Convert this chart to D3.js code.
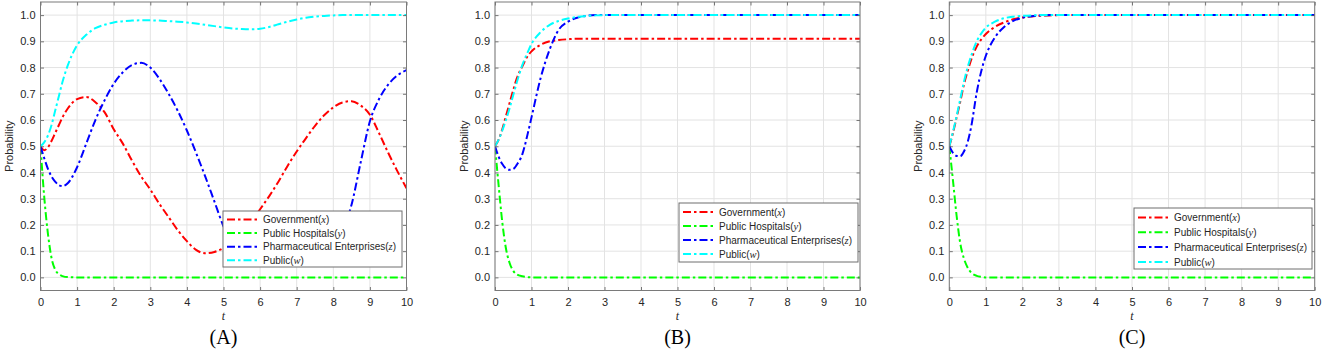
<!DOCTYPE html>
<html>
<head>
<meta charset="utf-8">
<script src="https://cdn.jsdelivr.net/npm/d3@7/dist/d3.min.js"></script>
<style>
  html, body { margin: 0; padding: 0; background: #fff; }
  svg { display: block; }
</style>
</head>
<body>
<svg id="chart" width="1325" height="352"></svg>
<script>
// ---------------- DATA ----------------
const X_TICKS = [0,1,2,3,4,5,6,7,8,9,10];
const Y_TICKS = [0,0.1,0.2,0.3,0.4,0.5,0.6,0.7,0.8,0.9,1.0];
const PANEL_LABELS = ["(A)", "(B)", "(C)"];
const SERIES_NAMES = ["Government", "Public Hospitals", "Pharmaceutical Enterprises", "Public"];
const SERIES_VARS = ["x", "y", "z", "w"];
const SERIES_COLORS = ["#ff0000", "#00ff00", "#0000ff", "#00ffff"];

// Panel A
const T_A = [0,0.1,0.2,0.3,0.4,0.5,0.6,0.75,1,1.25,1.5,1.75,2,2.25,2.5,2.75,3,3.25,3.5,3.75,4,4.25,4.5,4.75,5,5.25,5.5,5.75,6,6.25,6.5,6.75,7,7.25,7.5,7.75,8,8.25,8.5,8.75,9,9.25,9.5,9.75,10];
const GOV_A = [0.5,0.485,0.495,0.52,0.55,0.58,0.61,0.645,0.68,0.688,0.668,0.63,0.565,0.51,0.445,0.385,0.335,0.28,0.23,0.18,0.138,0.105,0.092,0.097,0.112,0.135,0.168,0.21,0.26,0.31,0.365,0.425,0.48,0.53,0.578,0.618,0.648,0.667,0.672,0.655,0.62,0.55,0.475,0.405,0.34];
const HOSP_A = [0.5,0.31,0.17,0.075,0.03,0.012,0.005,0.001,0,0,0,0,0,0,0,0,0,0,0,0,0,0,0,0,0,0,0,0,0,0,0,0,0,0,0,0,0,0,0,0,0,0,0,0,0];
const PHARMA_A = [0.5,0.455,0.415,0.385,0.365,0.352,0.348,0.36,0.42,0.51,0.6,0.675,0.738,0.782,0.81,0.818,0.8,0.757,0.7,0.635,0.56,0.475,0.385,0.29,0.195,0.13,0.09,0.07,0.06,0.054,0.052,0.053,0.056,0.062,0.07,0.085,0.115,0.175,0.278,0.44,0.595,0.68,0.735,0.77,0.79];
const PUBLIC_A = [0.5,0.515,0.54,0.58,0.635,0.69,0.745,0.81,0.885,0.925,0.95,0.963,0.972,0.977,0.979,0.98,0.98,0.979,0.977,0.975,0.972,0.968,0.963,0.958,0.953,0.949,0.947,0.946,0.948,0.955,0.965,0.975,0.983,0.99,0.994,0.997,0.999,1,1,1,1,1,1,1,1];

// Panel B
const T_B = [0,0.1,0.2,0.3,0.4,0.5,0.6,0.75,0.9,1,1.25,1.5,1.75,2,2.25,2.5,2.75,3,4,5,6,7,8,9,10];
const GOV_B = [0.5,0.525,0.565,0.615,0.665,0.715,0.76,0.805,0.845,0.862,0.887,0.9,0.905,0.908,0.91,0.91,0.91,0.91,0.91,0.91,0.91,0.91,0.91,0.91,0.91];
const HOSP_B = [0.5,0.35,0.21,0.11,0.055,0.025,0.011,0.004,0.001,0,0,0,0,0,0,0,0,0,0,0,0,0,0,0,0];
const PHARMA_B = [0.5,0.46,0.432,0.415,0.41,0.413,0.43,0.47,0.55,0.61,0.76,0.87,0.945,0.975,0.99,0.997,1,1,1,1,1,1,1,1,1];
const PUBLIC_B = [0.5,0.525,0.56,0.6,0.645,0.695,0.745,0.81,0.86,0.89,0.935,0.963,0.978,0.987,0.993,0.997,0.999,1,1,1,1,1,1,1,1];

// Panel C
const T_C = [0,0.1,0.2,0.3,0.4,0.5,0.6,0.75,0.9,1,1.25,1.5,1.75,2,2.25,2.5,2.75,3,4,5,6,7,8,9,10];
const GOV_C = [0.5,0.55,0.61,0.67,0.735,0.785,0.83,0.88,0.912,0.928,0.955,0.972,0.984,0.991,0.995,0.998,0.999,1,1,1,1,1,1,1,1];
const HOSP_C = [0.5,0.37,0.235,0.13,0.072,0.038,0.018,0.006,0.002,0,0,0,0,0,0,0,0,0,0,0,0,0,0,0,0];
const PHARMA_C = [0.5,0.475,0.463,0.462,0.48,0.515,0.575,0.705,0.8,0.845,0.915,0.955,0.978,0.99,0.996,0.999,1,1,1,1,1,1,1,1,1];
const PUBLIC_C = [0.5,0.555,0.615,0.68,0.745,0.8,0.845,0.9,0.935,0.952,0.975,0.988,0.994,0.997,0.999,1,1,1,1,1,1,1,1,1,1];

const PANELS = [
  { t: T_A, series: [GOV_A, HOSP_A, PHARMA_A, PUBLIC_A] },
  { t: T_B, series: [GOV_B, HOSP_B, PHARMA_B, PUBLIC_B] },
  { t: T_C, series: [GOV_C, HOSP_C, PHARMA_C, PUBLIC_C] }
];

// ---------------- LAYOUT ----------------
const LAYOUT = [
  { left: 40.5, width: 366, legend: { x: 223, y: 211, w: 179, h: 56, row0: 8.5, gap: 13.6 } },
  { left: 495, width: 365, legend: { x: 679, y: 203, w: 179, h: 59, row0: 9, gap: 14 } },
  { left: 949.3, width: 365.4, legend: { x: 1134, y: 208, w: 178, h: 61, row0: 9.5, gap: 14.8 } }
];
const TOP = 2, BOTTOM = 290.5;
const TEXT = "#262626";
const SANS = "Arial, 'Liberation Sans', Helvetica, sans-serif";
const SERIF = "'Times New Roman', 'Liberation Serif', serif";
const DASH = "8,3,2.5,3";

const svg = d3.select("#chart");

PANELS.forEach((p, i) => {
  const L = LAYOUT[i];
  const x = d3.scaleLinear().domain([0, 10]).range([L.left, L.left + L.width]);
  const y = d3.scaleLinear().domain([-0.05, 1.05]).range([BOTTOM, TOP]);
  const g = svg.append("g");

  // grid
  g.append("g").selectAll("line").data(X_TICKS).join("line")
    .attr("x1", d => x(d)).attr("x2", d => x(d))
    .attr("y1", TOP).attr("y2", BOTTOM)
    .attr("stroke", "#e3e3e3").attr("stroke-width", 1);
  g.append("g").selectAll("line").data(Y_TICKS).join("line")
    .attr("x1", L.left).attr("x2", L.left + L.width)
    .attr("y1", d => y(d)).attr("y2", d => y(d))
    .attr("stroke", "#e3e3e3").attr("stroke-width", 1);

  // clip
  const clipId = "clip" + i;
  svg.append("clipPath").attr("id", clipId).append("rect")
    .attr("x", L.left).attr("y", TOP).attr("width", L.width).attr("height", BOTTOM - TOP);

  // lines
  const line = d3.line().x(d => x(d[0])).y(d => y(d[1])).curve(d3.curveMonotoneX);
  const lg = g.append("g").attr("clip-path", `url(#${clipId})`);
  p.series.forEach((vals, k) => {
    const pts = p.t.map((tt, j) => [tt, vals[j]]);
    lg.append("path").datum(pts)
      .attr("d", line)
      .attr("fill", "none")
      .attr("stroke", SERIES_COLORS[k])
      .attr("stroke-width", 2)
      .attr("stroke-dasharray", DASH);
  });

  // axes (box with inner ticks)
  const axB = d3.axisBottom(x).tickValues(X_TICKS).tickSizeInner(-3.5).tickSizeOuter(0).tickPadding(8).tickFormat(d3.format("d"));
  const axT = d3.axisTop(x).tickValues(X_TICKS).tickSizeInner(-3.5).tickSizeOuter(0).tickFormat("");
  const axL = d3.axisLeft(y).tickValues(Y_TICKS).tickSizeInner(-3.5).tickSizeOuter(0).tickPadding(5).tickFormat(d3.format(".1f"));
  const axR = d3.axisRight(y).tickValues(Y_TICKS).tickSizeInner(-3.5).tickSizeOuter(0).tickFormat("");

  const styleAxis = sel => {
    sel.select(".domain").remove();
    sel.selectAll(".tick line").attr("stroke", "#555").attr("stroke-width", 0.8);
    sel.selectAll("text").attr("fill", TEXT).style("font-family", SANS).style("font-size", "11px");
  };
  g.append("g").attr("transform", `translate(0,${BOTTOM})`).call(axB).call(styleAxis);
  g.append("g").attr("transform", `translate(0,${TOP})`).call(axT).call(styleAxis);
  g.append("g").attr("transform", `translate(${L.left},0)`).call(axL).call(styleAxis);
  g.append("g").attr("transform", `translate(${L.left + L.width},0)`).call(axR).call(styleAxis);

  g.append("rect")
    .attr("x", L.left).attr("y", TOP).attr("width", L.width).attr("height", BOTTOM - TOP)
    .attr("fill", "none").attr("stroke", "#7a7a7a").attr("stroke-width", 1);

  // axis labels
  g.append("text")
    .attr("x", x(5)).attr("y", 320)
    .attr("text-anchor", "middle")
    .attr("fill", TEXT)
    .style("font-family", SERIF).style("font-style", "italic").style("font-size", "12px")
    .text("t");
  g.append("text")
    .attr("transform", `translate(${L.left - 27.5},${(TOP + BOTTOM) / 2}) rotate(-90)`)
    .attr("text-anchor", "middle")
    .attr("fill", TEXT)
    .style("font-family", SANS).style("font-size", "11px")
    .text("Probability");

  // panel label
  g.append("text")
    .attr("x", x(5)).attr("y", 344)
    .attr("text-anchor", "middle")
    .attr("fill", "#000")
    .style("font-family", SERIF).style("font-size", "20px")
    .text(PANEL_LABELS[i]);

  // legend
  const lgd = L.legend;
  const leg = g.append("g");
  leg.append("rect")
    .attr("x", lgd.x).attr("y", lgd.y).attr("width", lgd.w).attr("height", lgd.h)
    .attr("fill", "#fff").attr("stroke", "#6e6e6e").attr("stroke-width", 1);
  SERIES_NAMES.forEach((name, k) => {
    const cy = lgd.y + lgd.row0 + k * lgd.gap;
    leg.append("line")
      .attr("x1", lgd.x + 4).attr("x2", lgd.x + 37)
      .attr("y1", cy).attr("y2", cy)
      .attr("stroke", SERIES_COLORS[k]).attr("stroke-width", 2)
      .attr("stroke-dasharray", DASH);
    const tx = leg.append("text")
      .attr("x", lgd.x + 40).attr("y", cy + 3.6)
      .attr("fill", TEXT)
      .style("font-family", SANS).style("font-size", "10px");
    tx.append("tspan").text(name + "(");
    tx.append("tspan").style("font-family", SERIF).style("font-style", "italic").style("font-size", "10.5px").text(SERIES_VARS[k]);
    tx.append("tspan").text(")");
  });
});
</script>
</body>
</html>
